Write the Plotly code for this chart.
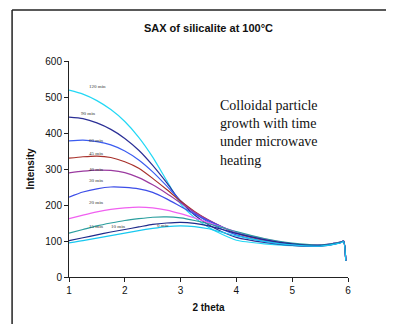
import plotly.graph_objects as go

theta = [1.0, 1.25, 1.5, 1.75, 2.0, 2.25, 2.5, 2.75, 3.0, 3.25, 3.5, 3.75, 4.0, 4.5, 5.0, 5.5, 5.85, 5.92, 5.96]

series_names = ["120 min", "90 min", "60 min", "45 min", "40 min", "30 min", "20 min", "15 min", "10 min", "0 min"]

i_120 = [519, 508, 490, 465, 432, 388, 333, 268, 203, 165, 138, 118, 102, 92, 87, 86, 96, 100, 45]
i_90 = [444, 440, 428, 410, 385, 352, 310, 262, 210, 172, 145, 125, 110, 96, 88, 86, 95, 99, 45]
i_60 = [378, 380, 376, 367, 350, 325, 292, 253, 212, 178, 152, 132, 117, 99, 90, 87, 95, 99, 45]
i_45 = [330, 334, 336, 332, 320, 302, 274, 243, 211, 182, 158, 138, 122, 102, 91, 88, 96, 100, 45]
i_40 = [289, 294, 297, 296, 290, 276, 256, 232, 206, 180, 158, 139, 123, 103, 92, 88, 96, 100, 45]
i_30 = [222, 236, 245, 250, 249, 245, 235, 217, 196, 175, 156, 139, 124, 104, 92, 88, 96, 100, 45]
i_20 = [162, 172, 181, 188, 192, 194, 192, 186, 176, 164, 151, 138, 125, 106, 93, 89, 96, 100, 45]
i_15 = [122, 132, 142, 150, 157, 162, 166, 167, 164, 157, 148, 137, 126, 107, 94, 89, 96, 100, 45]
i_10 = [101, 109, 117, 125, 132, 139, 146, 150, 152, 149, 142, 132, 121, 104, 92, 88, 95, 99, 45]
i_0 = [95, 101, 108, 115, 122, 129, 135, 140, 142, 140, 134, 124, 114, 99, 89, 86, 94, 98, 45]

series_values = [i_120, i_90, i_60, i_45, i_40, i_30, i_20, i_15, i_10, i_0]
series_colors = ["#22d8f5", "#2b2f96", "#3b5cf0", "#a8302a", "#9b3aa0", "#3d4ee8",
                 "#f060f0", "#2a9e9e", "#1f2a8a", "#18c8f0"]

label_x = [1.32, 1.18, 1.32, 1.32, 1.32, 1.32, 1.32, 1.32, 1.72, 2.54]
label_y = [528, 453, 378, 342, 300, 269, 206, 139, 139, 142]

title_text = "SAX of silicalite at 100°C"
note_text = "Colloidal particle<br>growth with time<br>under microwave<br>heating"

fig = go.Figure()
for name, vals, col in zip(series_names, series_values, series_colors):
    fig.add_trace(go.Scatter(x=theta, y=vals, mode="lines", name=name,
                             line=dict(color=col, width=1.2, shape="spline", smoothing=0.6)))

for name, lx, ly in zip(series_names, label_x, label_y):
    fig.add_annotation(x=lx, y=ly, text=name, showarrow=False, xanchor="left", yanchor="middle",
                       font=dict(family="Liberation Serif", size=5, color="#333333"))

fig.add_annotation(x=0.535, y=0.84, xref="paper", yref="paper", text=note_text, showarrow=False,
                   xanchor="left", yanchor="top", align="left",
                   font=dict(family="Liberation Serif", size=14, color="#111111"))

# outer frame lines (top and left)
fig.add_shape(type="line", xref="paper", yref="paper", x0=-0.204, x1=1.2, y0=1.236, y1=1.236,
              line=dict(color="#222222", width=1.5))
fig.add_shape(type="line", xref="paper", yref="paper", x0=-0.204, x1=-0.204, y0=-0.3, y1=1.236,
              line=dict(color="#222222", width=1.5))

fig.update_layout(
    width=386, height=316,
    margin=dict(l=61, r=46, t=53, b=47),
    paper_bgcolor="white", plot_bgcolor="white",
    showlegend=False,
    title=dict(text="<b>" + title_text + "</b>", x=0.5, xref="paper", xanchor="center",
               y=1 - 20 / 316, yanchor="middle",
               font=dict(family="Liberation Sans", size=11, color="#111111")),
    font=dict(family="Liberation Sans", size=10, color="#111111"),
)
fig.update_xaxes(range=[1, 6], tickvals=[1, 2, 3, 4, 5, 6], showline=True, linecolor="#222222",
                 linewidth=1, ticks="outside", ticklen=4, tickcolor="#222222", showgrid=False,
                 zeroline=False, title=dict(text="<b>2 theta</b>", standoff=8,
                                            font=dict(family="Liberation Sans", size=10)))
fig.update_yaxes(range=[0, 600], tickvals=[0, 100, 200, 300, 400, 500, 600], showline=True,
                 linecolor="#222222", linewidth=1, ticks="outside", ticklen=4, tickcolor="#222222",
                 showgrid=False, zeroline=False,
                 title=dict(text="<b>Intensity</b>", standoff=8,
                            font=dict(family="Liberation Sans", size=10)))

fig.write_html("out.html")
